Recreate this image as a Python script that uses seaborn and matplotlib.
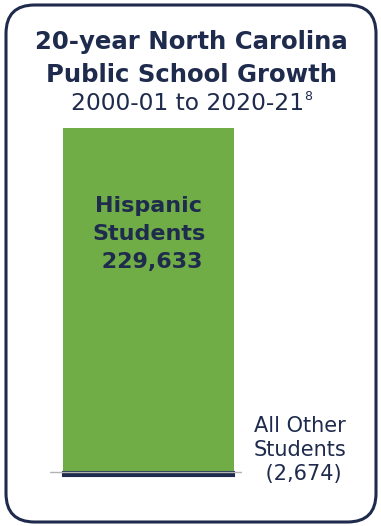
import matplotlib
matplotlib.use("Agg")
import matplotlib.pyplot as plt
import seaborn as sns
import pandas as pd
from matplotlib.patches import FancyBboxPatch

# ---- data ----
groups = ["Hispanic Students", "All Other Students"]
values = [229633, -2674]
label_lines = [["Hispanic", "Students"], ["All Other", "Students"]]
title_lines = ["20-year North Carolina", "Public School Growth"]
subtitle = "2000-01 to 2020-21"
footnote = "8"

NAVY = "#1f2b4d"
GREEN = "#70ad47"

sns.set_theme(style="white")
plt.rcParams["font.family"] = ["DejaVu Sans"]

W, H = 381, 526
fig = plt.figure(figsize=(W / 100, H / 100), dpi=100)

# axes: x from 50 to 242 px, y from 120 to 490 px (top-origin)
ax_left, ax_right, ax_top, ax_bot = 50, 242, 120, 490
ax = fig.add_axes([ax_left / W, (H - ax_bot) / H, (ax_right - ax_left) / W, (ax_bot - ax_top) / H])

df = pd.DataFrame({"pos": ["NC", "NC"], "group": groups, "value": values})
sns.barplot(data=df, x="pos", y="value", hue="group", dodge=False,
            palette=[GREEN, NAVY], width=0.89, ax=ax, legend=False,
            saturation=1, linewidth=0)
for p in ax.patches:
    if p.get_height() < 0:
        p.set_edgecolor(NAVY)
        p.set_linewidth(1.5)

# scale: zero at 472 px, 229633 at 128 px
per_px = values[0] / (472 - 128)
ax.set_ylim(-(ax_bot - 472) * per_px, values[0] + (128 - ax_top) * per_px)
pxu = 171 / 0.89
ax.set_xlim(-0.445 - 13 / pxu, 0.445 + 8 / pxu)
ax.axhline(0, color="#b3b3b3", lw=1.0, zorder=5)
ax.set_axis_off()

def fmt(v):
    return f"{v:,}" if v >= 0 else f"({-v:,})"

# label inside green bar
ax.text(0, (472 - 234) * per_px,
        "\n".join(label_lines[0] + [" " + fmt(values[0])]),
        ha="center", va="center", multialignment="center",
        fontsize=16, fontweight="bold", color=NAVY, linespacing=1.5)

# label for other students (right of bar)
fig.text(300 / W, 1 - 450 / H,
         "\n".join(label_lines[1] + [" " + fmt(values[1])]),
         ha="center", va="center", multialignment="center",
         fontsize=15, fontweight="medium", color=NAVY, linespacing=1.25)

# titles
fig.text(191 / W, 1 - 42 / H, title_lines[0], ha="center", va="center",
         fontsize=17.6, fontweight="bold", color=NAVY)
fig.text(191 / W, 1 - 75 / H, title_lines[1], ha="center", va="center",
         fontsize=17.6, fontweight="bold", color=NAVY)
st = fig.text(188 / W, 1 - 104 / H, subtitle, ha="center", va="center",
              fontsize=16.8, fontweight="normal", color=NAVY)
fig.canvas.draw()
bb = st.get_window_extent()
fig.text((bb.x1 - 0.5) / W, 1 - 97 / H, footnote, ha="left", va="center",
         fontsize=9, color=NAVY)

# rounded border
box = FancyBboxPatch((6 / W, 4 / H), (376 - 6) / W, (521 - 4) / H,
                     boxstyle="round,pad=0,rounding_size=0.075",
                     transform=fig.transFigure, fill=False,
                     edgecolor=NAVY, linewidth=2.2, mutation_aspect=W / H)
fig.patches.append(box)

fig.savefig("out.png", dpi=100)
